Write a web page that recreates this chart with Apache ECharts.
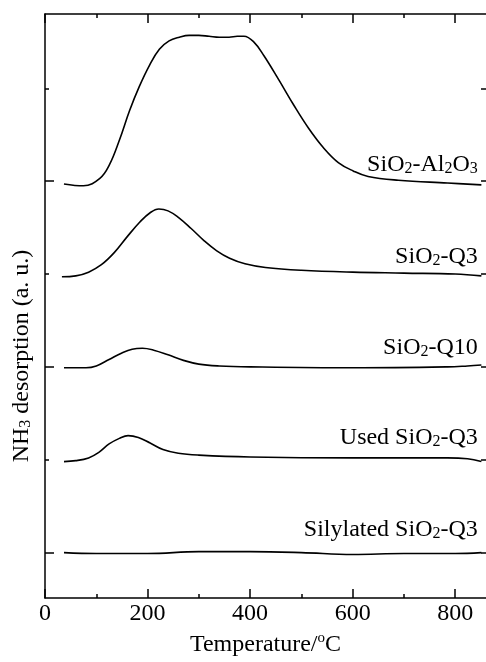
<!DOCTYPE html>
<html><head><meta charset="utf-8">
<script src="https://cdn.jsdelivr.net/npm/echarts@6/dist/echarts.min.js"></script>
<style>html,body{margin:0;padding:0;background:#fff}#c{width:486px;height:662px}</style>
</head><body><div id="c"></div>
<script>
// ---- data ----
const xTicksMajor = [0, 200, 400, 600, 800];
const xTicksMinor = [100, 300, 500, 700];
const yTicksMajor = [0, 2, 4];
const yTicksMinor = [1, 3, 5];
const yTicksRight = [0, 1, 2, 3, 4, 5];

const seriesNames = ['SiO2-Al2O3', 'SiO2-Q3', 'SiO2-Q10', 'Used SiO2-Q3', 'Silylated SiO2-Q3'];

const al2o3 = [[37,3.97],[75,3.95],[107,4.03],[126,4.18],[145,4.44],[165,4.76],[184,5.02],[204,5.25],[223,5.42],[242,5.51],[262,5.55],[281,5.57],[300,5.57],[320,5.56],[340,5.55],[359,5.55],[375,5.56],[388,5.56],[407,5.50],[427,5.35],[456,5.09],[485,4.82],[514,4.57],[543,4.36],[572,4.20],[601,4.11],[630,4.05],[689,4.01],[785,3.98],[851,3.96]];
const q3 = [[33,2.97],[60,2.98],[85,3.02],[110,3.10],[135,3.23],[160,3.40],[185,3.56],[205,3.66],[222,3.70],[240,3.68],[260,3.61],[285,3.49],[310,3.36],[335,3.25],[360,3.17],[390,3.11],[430,3.07],[500,3.04],[600,3.02],[700,3.01],[800,3.00],[851,2.98]];
const q10 = [[37,1.99],[80,1.99],[100,2.01],[125,2.08],[150,2.15],[170,2.19],[190,2.20],[212,2.18],[240,2.13],[270,2.07],[300,2.03],[340,2.01],[400,2.00],[600,1.99],[785,2.00],[824,2.01],[851,2.02]];
const usedQ3 = [[37,0.98],[60,0.99],[85,1.02],[105,1.08],[125,1.17],[145,1.23],[162,1.26],[182,1.24],[205,1.18],[230,1.11],[260,1.07],[300,1.05],[400,1.03],[600,1.02],[785,1.02],[824,1.01],[851,0.98]];
const silylQ3 = [[37,0.00],[100,-0.01],[200,-0.01],[300,0.01],[400,0.01],[500,0.00],[600,-0.02],[700,-0.01],[800,-0.01],[851,0.00]];

const seriesData = [al2o3, q3, q10, usedQ3, silylQ3];
const labelTexts = [
  '{n|SiO}{s|2}{n|-Al}{s|2}{n|O}{s|3}',
  '{n|SiO}{s|2}{n|-Q3}',
  '{n|SiO}{s|2}{n|-Q10}',
  '{n|Used SiO}{s|2}{n|-Q3}',
  '{n|Silylated SiO}{s|2}{n|-Q3}'
];

// ---- layout / style ----
const FONT = '"Liberation Serif", "Times New Roman", serif';
const FS = 24;
const labelAnchors = [[844, 4.19], [844, 3.20], [844, 2.22], [844, 1.245], [844, 0.255]];
const rich = {
  n: {fontFamily: FONT, fontSize: FS, lineHeight: 26, color: '#000', verticalAlign: 'bottom'},
  s: {fontFamily: FONT, fontSize: 16, lineHeight: 10, color: '#000', verticalAlign: 'bottom'},
  p: {fontFamily: FONT, fontSize: 15, lineHeight: 14, color: '#000', verticalAlign: 'top'}
};
const black = {color: '#000', width: 1.5};

function xAx(pos, ticks, len, showLine, withLabels) {
  const a = {
    type: 'value', position: pos, min: 0, max: 860, gridIndex: 0,
    splitLine: {show: false},
    axisLine: {show: showLine, onZero: false, lineStyle: black},
    axisTick: {show: true, inside: true, length: len, lineStyle: black, customValues: ticks},
    axisLabel: {show: withLabels, customValues: ticks, fontFamily: FONT, fontSize: FS, color: '#000', margin: 4}
  };
  if (withLabels) {
    a.name = '{n|Temperature/}{p|o}{n|C}';
    a.nameLocation = 'middle';
    a.nameGap = 32;
    a.nameTextStyle = {rich: rich};
  }
  return a;
}
function yAx(pos, ticks, len, showLine) {
  return {
    type: 'value', position: pos, min: -0.49, max: 5.8, gridIndex: 0, offset: 0,
    splitLine: {show: false},
    axisLine: {show: showLine, onZero: false, lineStyle: black},
    axisTick: {show: true, inside: true, length: len, lineStyle: black, customValues: ticks},
    axisLabel: {show: false}
  };
}

const chart = echarts.init(document.getElementById('c'), null, {renderer: 'canvas'});
chart.setOption({
  animation: false,
  backgroundColor: '#fff',
  grid: {left: 45, top: 14, width: 443.4, height: 591, containLabel: false},
  xAxis: [
    xAx('bottom', xTicksMajor, 9, true, true),
    xAx('bottom', xTicksMinor, 4, false, false),
    xAx('top', xTicksMajor, 9, true, false),
    xAx('top', xTicksMinor, 4, false, false)
  ],
  yAxis: [
    yAx('left', yTicksMajor, 9, true),
    yAx('left', yTicksMinor, 4, false),
    yAx('right', yTicksRight, 5, false)
  ],
  series: seriesData.map((d, i) => ({
    name: seriesNames[i], type: 'line', xAxisIndex: 0, yAxisIndex: 0,
    data: d, smooth: 0.4, showSymbol: false, symbol: 'none',
    lineStyle: {color: '#000', width: 1.6}
  }))
});

const graphics = labelTexts.map((t, i) => {
  const p = chart.convertToPixel({xAxisIndex: 0, yAxisIndex: 0}, labelAnchors[i]);
  return {type: 'text', x: p[0], y: p[1], style: {text: t, rich: rich, align: 'right', verticalAlign: 'middle'}};
});
graphics.push({
  type: 'text', x: 21, y: 356, rotation: Math.PI / 2,
  style: {text: '{n|NH}{s|3}{n| desorption (a. u.)}', rich: rich, align: 'center', verticalAlign: 'middle'}
});
chart.setOption({graphic: graphics});
</script></body></html>
